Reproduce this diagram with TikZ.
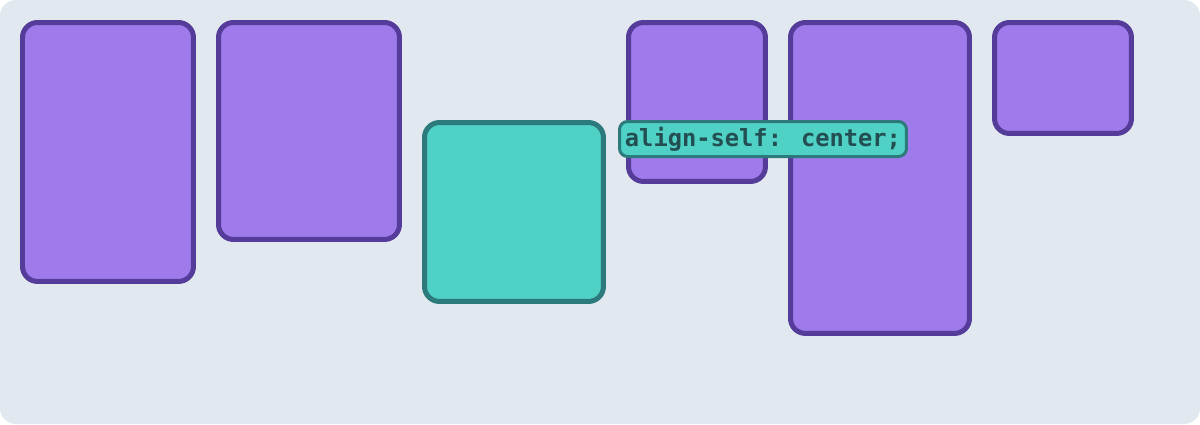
\documentclass[tikz,border=0pt]{standalone}
\usepackage{fontspec}
\newfontfamily\codefont{DejaVu Sans Mono}
\usetikzlibrary{positioning}

\definecolor{bgcol}{HTML}{E2E8F0}
\definecolor{itemfill}{HTML}{9F7AEA}
\definecolor{itemline}{HTML}{553C9A}
\definecolor{selffill}{HTML}{4FD1C5}
\definecolor{selfline}{HTML}{2C7A7B}
\definecolor{codetext}{HTML}{234E52}

\tikzset{
	item/.style={draw=itemline, fill=itemfill, line width=0.1cm, rounded corners=0.3cm, rectangle, anchor=north west, outer sep=0pt, inner sep=0pt},
	selfitem/.style={item, draw=selfline, fill=selffill},
	codelabel/.style={draw=selfline, fill=selffill, line width=0.06cm, rounded corners=0.16cm, rectangle, outer sep=0pt, inner sep=0pt, minimum width=5.74cm, minimum height=0.7cm, text=codetext, font=\codefont\bfseries\fontsize{13.5}{14}\selectfont}
}

\begin{document}
\begin{tikzpicture}[x=0.02cm, y=-0.02cm]
	
	% Container
	\fill [bgcol, rounded corners=0.32cm] (0,0) rectangle (1200,424);
	\useasboundingbox (0,0) rectangle (1200,424);
	
	% Items
	\node [item, minimum width=3.42cm, minimum height=5.18cm] (item1) at (22.5,22.5) {};
	\node [item, minimum width=3.62cm, minimum height=4.34cm] (item2) at (218.5,22.5) {};
	\node [selfitem, minimum width=3.58cm, minimum height=3.58cm] (item3) at (424.5,122.5) {};
	\node [item, minimum width=2.74cm, minimum height=3.18cm] (item4) at (628.5,22.5) {};
	\node [item, minimum width=3.58cm, minimum height=6.22cm] (item5) at (790.5,22.5) {};
	\node [item, minimum width=2.74cm, minimum height=2.22cm] (item6) at (994.5,22.5) {};
	
	% Label
	\node [codelabel] (selflabel) at (763,139) {align-self: center;};
	
\end{tikzpicture}
\end{document}
